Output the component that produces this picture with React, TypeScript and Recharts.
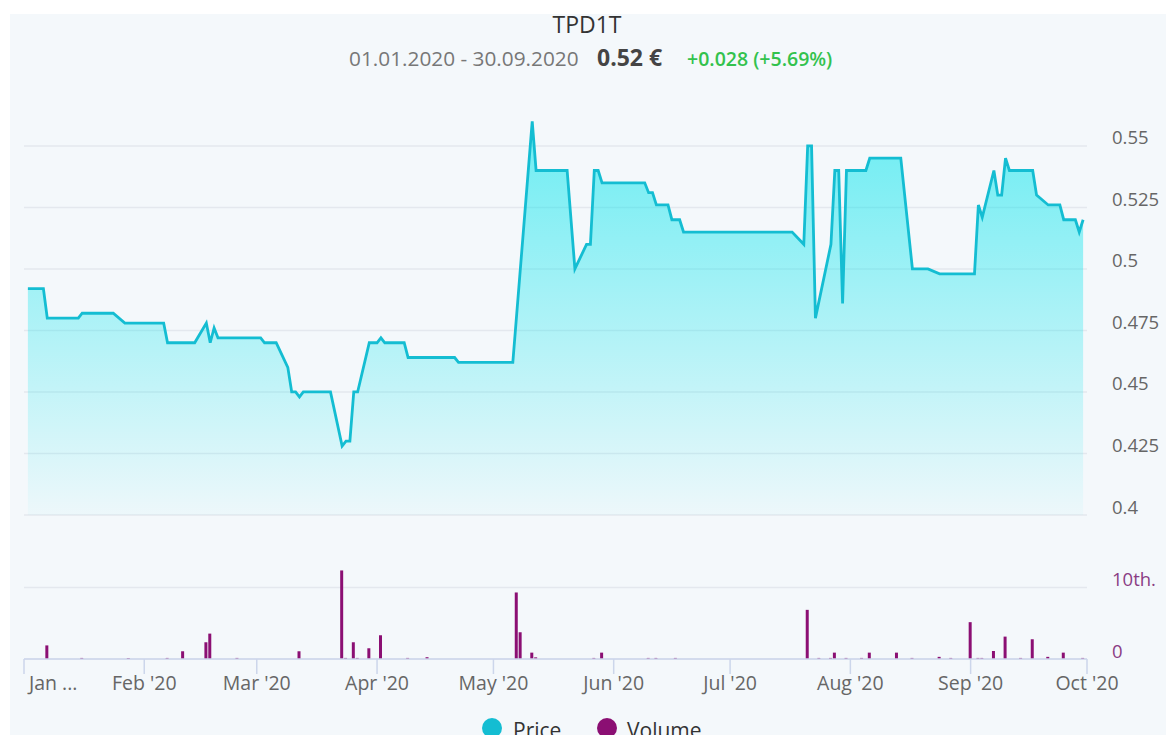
import React from 'react';
import { ComposedChart, Area, Bar, XAxis, YAxis, CartesianGrid } from 'recharts';

const priceDates = [
  '2020-01-02', '2020-01-06', '2020-01-07', '2020-01-15', '2020-01-16', '2020-01-24', '2020-01-27',
  '2020-02-06', '2020-02-07', '2020-02-14', '2020-02-17', '2020-02-18', '2020-02-19', '2020-02-20',
  '2020-03-02', '2020-03-03', '2020-03-06', '2020-03-09', '2020-03-10', '2020-03-11', '2020-03-12',
  '2020-03-13', '2020-03-20', '2020-03-23', '2020-03-24', '2020-03-25', '2020-03-26', '2020-03-27',
  '2020-03-30', '2020-04-01', '2020-04-02', '2020-04-03', '2020-04-08', '2020-04-09', '2020-04-21',
  '2020-04-22', '2020-05-06', '2020-05-11', '2020-05-12', '2020-05-20', '2020-05-22', '2020-05-25',
  '2020-05-26', '2020-05-27', '2020-05-28', '2020-05-29', '2020-06-09', '2020-06-10', '2020-06-11',
  '2020-06-12', '2020-06-15', '2020-06-16', '2020-06-18', '2020-06-19', '2020-07-17', '2020-07-20',
  '2020-07-21', '2020-07-22', '2020-07-23', '2020-07-27', '2020-07-28', '2020-07-29', '2020-07-30',
  '2020-07-31', '2020-08-05', '2020-08-06', '2020-08-14', '2020-08-17', '2020-08-21', '2020-08-24',
  '2020-09-02', '2020-09-03', '2020-09-04', '2020-09-07', '2020-09-08', '2020-09-09', '2020-09-10',
  '2020-09-11', '2020-09-17', '2020-09-18', '2020-09-21', '2020-09-24', '2020-09-25', '2020-09-28',
  '2020-09-29', '2020-09-30',
];
const priceValues = [
  0.492, 0.492, 0.48, 0.48, 0.482, 0.482, 0.478,
  0.478, 0.47, 0.47, 0.478, 0.47, 0.476, 0.472,
  0.472, 0.47, 0.47, 0.46, 0.45, 0.45, 0.448,
  0.45, 0.45, 0.428, 0.43, 0.43, 0.45, 0.45,
  0.47, 0.47, 0.472, 0.47, 0.47, 0.464, 0.464,
  0.462, 0.462, 0.56, 0.54, 0.54, 0.5, 0.51,
  0.51, 0.54, 0.54, 0.535, 0.535, 0.531, 0.531,
  0.526, 0.526, 0.52, 0.52, 0.515, 0.515, 0.51,
  0.55, 0.55, 0.48, 0.51, 0.54, 0.54, 0.486,
  0.54, 0.54, 0.545, 0.545, 0.5, 0.5, 0.498,
  0.498, 0.526, 0.521, 0.54, 0.53, 0.53, 0.545,
  0.54, 0.54, 0.53, 0.526, 0.526, 0.52, 0.52,
  0.515, 0.52,
];

const volumeDates = [
  '2020-01-07', '2020-01-16', '2020-01-28', '2020-02-07', '2020-02-11', '2020-02-17', '2020-02-18',
  '2020-02-25', '2020-03-12', '2020-03-23', '2020-03-24', '2020-03-26', '2020-03-27', '2020-03-30',
  '2020-04-02', '2020-04-09', '2020-04-14', '2020-05-07', '2020-05-08', '2020-05-11', '2020-05-12',
  '2020-05-27', '2020-05-29', '2020-06-10', '2020-06-12', '2020-06-17', '2020-07-21', '2020-07-24',
  '2020-07-27', '2020-07-28', '2020-07-31', '2020-08-04', '2020-08-06', '2020-08-13', '2020-08-17',
  '2020-08-24', '2020-08-27', '2020-09-01', '2020-09-03', '2020-09-04', '2020-09-07', '2020-09-10',
  '2020-09-14', '2020-09-17', '2020-09-21', '2020-09-25', '2020-09-30',
];
const volumeValues = [
  1900, 150, 150, 150, 1080, 2340, 3550,
  150, 1080, 12380, 150, 2340, 150, 1500,
  3320, 150, 250, 9300, 3740, 890, 230,
  150, 890, 150, 150, 150, 6870, 150,
  150, 890, 150, 150, 890, 890, 150,
  300, 150, 5150, 150, 150, 1120, 3130,
  150, 2760, 300, 890, 150,
];

const monthTickDates = [
  '2020-01-01', '2020-02-01', '2020-03-01', '2020-04-01', '2020-05-01',
  '2020-06-01', '2020-07-01', '2020-08-01', '2020-09-01', '2020-10-01',
];
const monthTickLabels = ["Jan ...", "Feb '20", "Mar '20", "Apr '20", "May '20", "Jun '20", "Jul '20", "Aug '20", "Sep '20", "Oct '20"];

const priceTicks = [0.4, 0.425, 0.45, 0.475, 0.5, 0.525, 0.55];
const priceTickLabels = ['0.4', '0.425', '0.45', '0.475', '0.5', '0.525', '0.55'];
const volumeTicks = [0, 10000];
const volumeTickLabels = ['0', '10th.'];

const titleText = 'TPD1T';
const rangeText = '01.01.2020 - 30.09.2020';
const lastPriceText = '0.52 €';
const changeText = '+0.028 (+5.69%)';
const seriesNames = ['Price', 'Volume'];

const toTs = (s: string) => Date.parse(s + 'T00:00:00Z');
const T0 = toTs('2020-01-01');
const T1 = toTs('2020-10-01');
const monthTicks = monthTickDates.map(toTs);

const priceData = priceDates.map((d, i) => ({ t: toTs(d), price: priceValues[i] }));
const volumeData = volumeDates.map((d, i) => ({ t: toTs(d), volume: volumeValues[i] }));

const PRICE = '#14bdd2';
const VOLUME = '#8b0f73';
const FONT = '"Open Sans", sans-serif';
const GRID = '#e4e8ee';
const AXIS = '#ccd6eb';

const PriceTick = (props: any) => {
  const { x, y, payload } = props;
  const idx = priceTicks.indexOf(payload.value);
  return (
    <text x={x} y={y - 9} dominantBaseline="central" textAnchor="start" fill="#666" fontSize={18.5} fontFamily={FONT}>
      {priceTickLabels[idx]}
    </text>
  );
};

const VolTick = (props: any) => {
  const { x, y, payload } = props;
  const idx = volumeTicks.indexOf(payload.value);
  return (
    <text x={x} y={y - 9} dominantBaseline="central" textAnchor="start" fill="#8a3d84" fontSize={18.5} fontFamily={FONT}>
      {volumeTickLabels[idx]}
    </text>
  );
};

const MonthTick = (props: any) => {
  const { x, y, payload } = props;
  const idx = monthTicks.indexOf(payload.value);
  const first = idx === 0;
  return (
    <text
      x={first ? x + 5 : x}
      y={y + 8}
      dominantBaseline="central"
      textAnchor={first ? 'start' : 'middle'}
      fill="#666"
      fontSize={19.5}
      fontFamily={FONT}
    >
      {monthTickLabels[idx]}
    </text>
  );
};

export default function App() {
  return (
    <div style={{ position: 'absolute', left: 0, top: 0, width: 1166, height: 735, background: '#fff', overflow: 'hidden', fontFamily: FONT }}>
      <div style={{ position: 'absolute', left: 10, top: 14, width: 1156, height: 721, background: '#f4f8fb' }} />
      <div style={{ position: 'absolute', left: 0, top: 0 }}>
        <ComposedChart width={1166} height={520} data={priceData} margin={{ top: 109, right: 0, bottom: 5, left: 24 }}>
          <defs>
            <linearGradient id="priceFill" x1="0" y1="0" x2="0" y2="1">
              <stop offset="0%" stopColor="#00e4ec" stopOpacity={0.56} />
              <stop offset="100%" stopColor="#00e4ec" stopOpacity={0.03} />
            </linearGradient>
          </defs>
          <CartesianGrid vertical={false} stroke={GRID} strokeWidth={1.5} horizontalValues={priceTicks} />
          <XAxis dataKey="t" type="number" domain={[T0, T1]} allowDataOverflow hide />
          <YAxis
            orientation="right"
            width={79}
            domain={[0.4, 0.565]}
            ticks={priceTicks}
            interval={0}
            allowDataOverflow
            axisLine={false}
            tickLine={false}
            tickSize={0}
            tickMargin={25}
            tick={<PriceTick />}
          />
          <Area
            type="linear"
            dataKey="price"
            stroke={PRICE}
            strokeWidth={2.8}
            fill="url(#priceFill)"
            fillOpacity={1}
            isAnimationActive={false}
            dot={false}
            activeDot={false}
          />
        </ComposedChart>
      </div>
      <div style={{ position: 'absolute', left: 0, top: 540 }}>
        <ComposedChart width={1166} height={160} data={volumeData} margin={{ top: 26, right: 0, bottom: 0, left: 24 }}>
          <CartesianGrid vertical={false} stroke={GRID} strokeWidth={1.5} horizontalValues={volumeTicks} />
          <XAxis
            dataKey="t"
            type="number"
            domain={[T0, T1]}
            allowDataOverflow
            ticks={monthTicks}
            interval={0}
            height={41}
            axisLine={{ stroke: AXIS, strokeWidth: 1.5 }}
            tickLine={{ stroke: AXIS, strokeWidth: 1.5 }}
            tickSize={15}
            tickMargin={0}
            tick={<MonthTick />}
          />
          <YAxis
            orientation="right"
            width={79}
            domain={[0, 13000]}
            ticks={volumeTicks}
            interval={0}
            allowDataOverflow
            axisLine={false}
            tickLine={false}
            tickSize={0}
            tickMargin={25}
            tick={<VolTick />}
          />
          <Bar dataKey="volume" fill={VOLUME} barSize={3} isAnimationActive={false} />
        </ComposedChart>
      </div>
      <svg style={{ position: 'absolute', left: 0, top: 0 }} width={1166} height={735}>
        <text x={587} y={33} textAnchor="middle" fontSize={23} fill="#333" fontFamily={FONT}>{titleText}</text>
        <text x={349} y={66} textAnchor="start" fontSize={20.8} fill="#777" fontFamily={FONT}>{rangeText}</text>
        <text x={597} y={66} textAnchor="start" fontSize={23} fontWeight={700} fill="#444" fontFamily={FONT}>{lastPriceText}</text>
        <text x={687} y={66} textAnchor="start" fontSize={19.5} fontWeight={600} fill="#33c24d" fontFamily={FONT}>{changeText}</text>
        <circle cx={492} cy={728} r={10} fill={PRICE} />
        <text x={513} y={738} fontSize={21} fill="#333" fontFamily={FONT}>{seriesNames[0]}</text>
        <circle cx={607} cy={728} r={10} fill={VOLUME} />
        <text x={627} y={738} fontSize={21} fill="#333" fontFamily={FONT}>{seriesNames[1]}</text>
      </svg>
    </div>
  );
}
